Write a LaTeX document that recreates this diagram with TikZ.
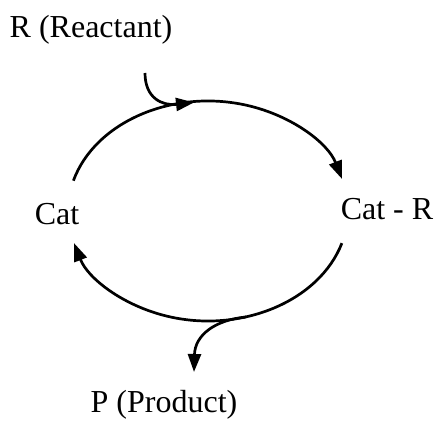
\documentclass[tikz,border=0pt]{standalone}
\usepackage{fontspec}
\setmainfont{Liberation Serif}
\usetikzlibrary{arrows.meta,calc}
\tikzset{
  lbl/.style={inner sep=0pt,anchor=base,font=\fontsize{32}{38}\selectfont},
  flow/.style={line width=2.7pt,arrows={-Triangle[length=18pt,width=13pt]}}}
\begin{document}
\begin{tikzpicture}[x=1pt,y=1pt]
\useasboundingbox (0,0) rectangle (436,420);
\node[lbl] (R) at (91,382.5) {R (Reactant)};
\node[lbl] (Cat) at (57,195) {Cat};
\node[lbl] (CatR) at (387,200) {Cat - R};
\node[lbl] (P) at (164,8) {P (Product)};
% cycle ends
\coordinate (topL) at ($(208,209)+(164:140 and 110)$);
\coordinate (botR) at ($(208,209)+(-17:140 and 110)$);
\coordinate (rin) at (145,347);
\coordinate (rend) at (194,317.5);
\coordinate (pst) at (246,103);
\coordinate (pend) at (194,48);
\draw[flow] (topL) arc[start angle=164,end angle=17,x radius=140,y radius=110];
\draw[flow] (botR) arc[start angle=-17,end angle=-163,x radius=140,y radius=110];
\draw[flow] (rin) .. controls (145,322) and (162,314) .. (rend);
\draw[flow] (pst) .. controls (215,100) and (195,85) .. (pend);
\end{tikzpicture}
\end{document}
